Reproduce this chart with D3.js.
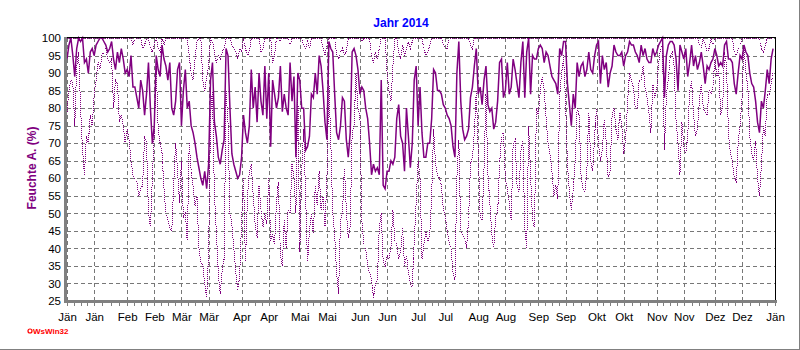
<!DOCTYPE html>
<html><head><meta charset="utf-8">
<script src="https://cdn.jsdelivr.net/npm/d3@7/dist/d3.min.js"></script>
<style>body{margin:0;background:#fff}svg{display:block}</style>
</head><body>
<svg id="c" width="800" height="350"></svg>
<script>
const title = "Jahr 2014";
const yLabel = "Feuchte A. (%)";
const yTicks = [25,30,35,40,45,50,55,60,65,70,75,80,85,90,95,100];
const monthLabels = ["Jän","Jän","Feb","Feb","Mär","Mär","Apr","Apr","Mai","Mai","Jun","Jun","Jul","Jul","Aug","Aug","Sep","Sep","Okt","Okt","Nov","Nov","Dez","Dez","Jän"];

// daily mean humidity 2014
const meanV = [
94,98,100,95,89,97,100,99,100,93,
94,90,96,97,95,98,99,100,100,99,
98,96,97,99,94,91,96,93,97,94,
90,91,89,95,86,86,83,80,88,85,
78,84,93,80,70,75,95,91,89,98,
94,92,88,93,80,78,82,91,93,75,
85,91,80,82,75,73,70,66,63,60,
58,62,57,64,88,93,76,72,66,64,
68,71,97,95,80,67,64,62,60,61,
66,78,73,70,75,91,80,86,76,90,
82,78,92,77,90,69,88,84,80,83,
92,79,84,80,78,93,82,89,66,90,
88,80,80,68,69,72,84,83,90,84,
95,92,85,76,71,99,97,96,84,73,
71,75,83,82,71,66,73,96,97,95,
91,84,86,85,80,77,70,61,64,62,
63,61,88,58,57,62,62,65,64,66,
77,81,72,70,62,80,72,63,70,88,
92,75,86,73,66,66,70,70,77,91,
90,85,85,84,81,80,78,77,75,69,
66,90,99,82,74,71,72,74,83,86,
92,97,84,86,81,88,92,81,79,80,
74,76,82,93,94,83,85,93,84,86,
94,91,87,83,93,99,83,96,100,84,
95,94,94,97,98,97,93,96,95,92,
89,88,87,84,97,95,99,99,87,81,
75,84,80,93,89,92,93,89,91,96,
91,90,95,98,99,87,95,91,93,86,
90,92,98,96,95,95,96,92,95,96,
99,98,98,96,95,93,98,95,97,94,
93,93,97,95,96,98,99,100,83,95,
98,99,99,98,94,85,98,96,94,97,
89,93,98,92,95,91,93,96,92,87,
92,91,93,94,97,95,92,93,92,98,
99,94,94,93,87,84,90,95,94,98,
96,95,90,87,86,82,76,73,82,80,
85,91,87,94,97];

// daily minimum humidity 2014
const minV = [
79,85,88,87,75,92,96,80,68,61,
72,70,78,75,84,88,93,91,95,96,
97,94,93,94,80,88,87,76,78,75,
70,74,71,65,61,60,59,55,57,58,
72,70,50,46,60,73,92,74,70,67,
57,50,48,46,45,58,70,62,53,65,
49,50,42,70,62,58,52,55,40,36,
35,30,26,38,78,85,55,45,33,27,
34,37,85,76,50,47,40,33,28,32,
48,60,36,54,62,64,55,47,43,58,
51,46,50,47,60,42,44,41,53,59,
38,35,48,40,51,50,64,60,50,85,
39,62,74,55,36,45,50,44,58,52,
62,51,55,46,60,88,70,50,44,33,
27,48,50,63,51,43,46,73,75,90,
80,78,48,41,40,35,33,31,26,30,
31,46,50,36,35,38,37,40,51,42,
41,37,39,46,35,38,33,30,29,42,
53,65,60,37,41,45,42,44,55,74,
64,61,60,58,51,49,45,42,40,33,
31,60,71,45,44,43,40,48,64,66,
73,85,68,49,48,63,84,61,53,44,
40,49,50,64,72,73,60,57,53,48,
70,71,58,56,68,71,46,40,75,61,
48,46,80,78,85,89,85,77,70,67,
62,55,58,54,84,90,95,82,64,56,
51,57,65,80,78,61,57,56,62,79,
65,62,72,80,70,65,68,77,70,60,
62,78,80,74,71,79,75,67,71,82,
90,88,86,80,80,88,88,92,86,83,
79,73,87,83,85,93,97,98,68,84,
88,95,96,92,76,70,61,76,69,67,
72,85,88,78,72,74,82,87,80,79,
78,85,84,86,94,89,91,78,80,96,
92,73,67,65,60,59,70,75,83,98,
90,86,72,67,65,71,60,55,64,75,
72,84,84,87,90];

// daily maximum humidity 2014
const maxV = [
100,100,100,100,100,100,100,100,100,100,
100,100,100,100,100,100,100,100,100,100,
100,100,100,100,100,100,100,100,100,100,
100,100,100,100,98,100,100,100,100,97,
98,100,100,97,96,98,100,97,96,100,
98,100,100,100,100,100,100,100,100,100,
100,100,100,95,90,88,94,99,100,100,
88,85,89,92,100,99,96,93,95,94,
96,97,100,100,100,98,97,96,94,97,
96,100,97,95,96,100,100,100,100,100,
96,97,100,100,100,100,93,95,100,100,
99,100,100,100,100,98,100,100,100,100,
100,100,98,97,99,97,100,100,100,100,
100,100,97,95,98,100,100,100,100,95,
94,96,97,95,96,100,100,100,100,100,
100,100,99,100,100,100,100,95,93,96,
94,97,100,100,100,90,85,82,92,100,
100,96,94,98,95,97,99,97,99,100,
100,100,100,100,97,95,96,98,100,100,
100,100,100,100,98,97,97,100,100,100,
100,100,100,100,100,100,100,100,98,97,
100,100,100,100,100,100,100,100,100,100,
100,100,100,100,100,100,100,100,100,100,
100,100,100,100,100,100,100,100,100,100,
100,100,100,100,100,100,100,100,100,100,
100,100,100,100,100,100,100,100,100,100,
100,100,100,100,100,100,100,100,100,100,
100,100,100,100,100,100,100,100,100,100,
100,100,100,100,100,100,100,100,100,100,
100,100,100,100,100,100,100,100,100,100,
100,100,100,100,100,100,100,100,100,100,
100,100,100,100,100,100,100,100,100,100,
100,100,100,100,100,100,98,97,100,98,
96,97,100,98,100,100,100,100,100,100,
100,100,100,100,96,95,97,98,100,100,
100,100,100,100,100,100,100,100,97,96,
98,100,100,100,100];

const svg = d3.select("#c");
const L = 67, R = 775, T = 38, B = 301;
const font = "Arial, 'Liberation Sans', sans-serif";
const start = new Date(2014,0,1), end = new Date(2015,0,1);
const x = d3.scaleTime().domain([start,end]).range([L,R]);
const y = d3.scaleLinear().domain([25,100]).range([B,T]);
const day = i => new Date(2014,0,1+i);

// outer frame (right / bottom)
svg.append("line").attr("x1",0).attr("x2",800).attr("y1",349.5).attr("y2",349.5).attr("stroke","#808080");
svg.append("line").attr("x1",799.5).attr("x2",799.5).attr("y1",0).attr("y2",350).attr("stroke","#808080");

// grid positions: 1st and 15th of each month + end
const gridDates = [];
for (let m=0;m<12;m++){ gridDates.push(new Date(2014,m,1)); gridDates.push(new Date(2014,m,15)); }
gridDates.push(end);

const g = svg.append("g");
// horizontal grid
const yAxis = d3.axisLeft(y).tickValues(yTicks).tickSize(-(R-L)).tickFormat(d=>d);
const ya = g.append("g").attr("transform",`translate(${L},0)`).call(yAxis);
ya.select(".domain").remove();
ya.selectAll(".tick line").attr("stroke","#777").attr("stroke-dasharray","4,3").attr("shape-rendering","crispEdges");
ya.selectAll(".tick text").attr("x",-6).attr("font-family",font).attr("font-size","11.5px").attr("fill","#000");

// vertical grid + labels
const xAxis = d3.axisBottom(x).tickValues(gridDates).tickSize(-(B-T)).tickFormat((d,i)=>monthLabels[i]);
const xa = g.append("g").attr("transform",`translate(0,${B})`).call(xAxis);
xa.select(".domain").remove();
xa.selectAll(".tick line").attr("stroke","#777").attr("stroke-dasharray","4,3").attr("shape-rendering","crispEdges");
xa.selectAll(".tick text").attr("y",12).attr("font-family",font).attr("font-size","11.5px").attr("fill","#000");

// minor ticks below axis
const minor = [];
for (let i=0;i<gridDates.length-1;i++){
  const a=+gridDates[i], b=+gridDates[i+1];
  for (let k=0;k<4;k++) minor.push(new Date(a+(b-a)*k/4));
}
minor.push(end);
const ma = g.append("g").attr("transform",`translate(0,${B})`).call(d3.axisBottom(x).tickValues(minor).tickSize(5).tickFormat(""));
ma.select(".domain").remove();
ma.selectAll(".tick line").attr("stroke","#808080").attr("shape-rendering","crispEdges");

// series
const line = arr => d3.line().x((d,i)=>x(day(i))).y(d=>y(d))(arr);
const plot = svg.append("g");
plot.append("path").attr("d",line(minV)).attr("fill","none").attr("stroke","#800080").attr("stroke-width",1).attr("stroke-dasharray","1,1").attr("shape-rendering","crispEdges");
plot.append("path").attr("d",line(maxV)).attr("fill","none").attr("stroke","#800080").attr("stroke-width",1).attr("stroke-dasharray","1,1").attr("shape-rendering","crispEdges");
plot.append("path").attr("d",line(meanV)).attr("fill","none").attr("stroke","#800080").attr("stroke-width",1.5);

// frame: top & right black, left & bottom thick gray
svg.append("line").attr("x1",L).attr("x2",R+1).attr("y1",T-0.5).attr("y2",T-0.5).attr("stroke","#000");
svg.append("line").attr("x1",R+0.5).attr("x2",R+0.5).attr("y1",T-1).attr("y2",B).attr("stroke","#000");
svg.append("line").attr("x1",L-1.5).attr("x2",L-1.5).attr("y1",T-1).attr("y2",B+2).attr("stroke","#808080").attr("stroke-width",3);
svg.append("line").attr("x1",L-3).attr("x2",R+2).attr("y1",B+0.5).attr("y2",B+0.5).attr("stroke","#808080").attr("stroke-width",3);

// title
svg.append("text").attr("x",401).attr("y",27).attr("text-anchor","middle").attr("font-family",font).attr("font-weight","bold").attr("font-size","12px").attr("fill","#0000ff").text(title);
// y label
svg.append("text").attr("transform","translate(36,168) rotate(-90)").attr("text-anchor","middle").attr("font-family",font).attr("font-weight","bold").attr("font-size","12px").attr("fill","#800080").text(yLabel);
// WsWin32 mark
svg.append("circle").attr("cx",30).attr("cy",331).attr("r",2).attr("fill","none").attr("stroke","#ff0000").attr("stroke-width",1.2);
svg.append("text").attr("x",33).attr("y",334).attr("font-family",font).attr("font-weight","bold").attr("font-size","8px").attr("fill","#ff0000").text("WsWin32");
</script>
</body></html>
